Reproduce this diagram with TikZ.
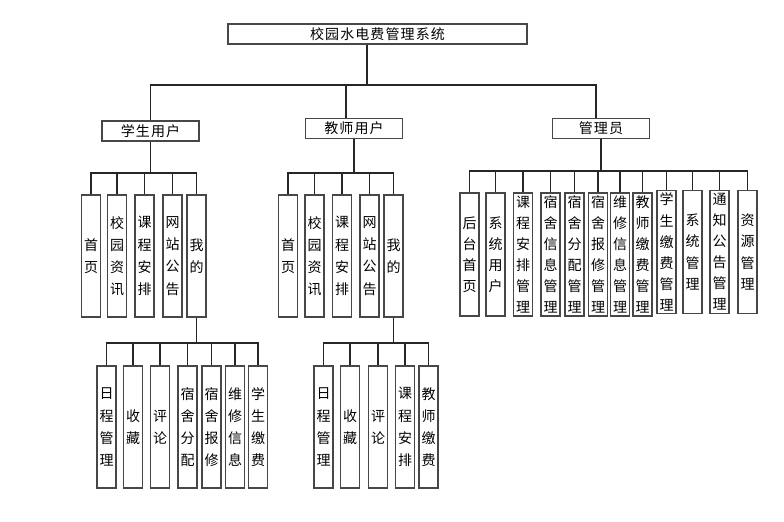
\documentclass[tikz,border=0pt]{standalone}
\usepackage{fontspec}
\newfontfamily\cjk{Noto Sans CJK SC}
\newfontfamily\cjkw{Noto Sans CJK SC}[LetterSpace=8]
\begin{document}
\begin{tikzpicture}[x=0.75pt,y=-0.75pt,
  box/.style={draw=black!72, line width=1.1pt, fill=white, inner sep=0pt, align=center},
  topbox/.style={box, minimum width=72.75pt, minimum height=15pt, font=\cjkw\fontsize{10.5}{12}\selectfont},
  leaf/.style={box, minimum width=14.5pt, minimum height=91.5pt, font=\cjk\fontsize{10.5}{16.6}\selectfont},
  aleaf/.style={box, minimum width=14.5pt, minimum height=92.5pt, font=\cjk\fontsize{10.5}{15.8}\selectfont},
  conn/.style={draw=black!85, line width=0.8pt}]
\useasboundingbox (0,0) rectangle (784,521);
% top level
\node[topbox, minimum width=224.25pt] (root) at (377.5,34) {校园水电费管理系统};
\node[topbox] (stu) at (150.5,131) {学生用户};
\node[topbox] (tch) at (354,128.5) {教师用户};
\node[topbox] (adm) at (601,128.5) {管理员};
\coordinate (rdx) at (367,85);
\coordinate (tdx) at (346,85);
\coordinate (adx) at (596,85);
\draw[conn] (root.south -| rdx) -- (rdx);
\draw[conn] (stu.north) |- (adx) -- (adm.north -| adx);
\draw[conn] (tdx) -- (tch.north -| tdx);
% student leaves
\node[leaf] (s1) at (91,256) {首\\页};
\node[leaf] (s2) at (117,256) {校\\园\\资\\讯};
\node[leaf] (s3) at (144.5,256) {课\\程\\安\\排};
\node[leaf] (s4) at (172.5,256) {网\\站\\公\\告};
\node[leaf] (s5) at (196.5,256) {我\\的};
\coordinate (sbus) at (0,173);
\draw[conn] (s1.north) |- (s5.north |- sbus) -- (s5.north);
\foreach \n in {s2,s3,s4} \draw[conn] (\n.north) -- (\n.north |- sbus);
\draw[conn] (stu.south) -- (stu.south |- sbus);
% student sub leaves
\node[leaf] (ss1) at (106.5,427) {日\\程\\管\\理};
\node[leaf] (ss2) at (133,427) {收\\藏};
\node[leaf] (ss3) at (160,427) {评\\论};
\node[leaf] (ss4) at (187.5,427) {宿\\舍\\分\\配};
\node[leaf] (ss5) at (211.5,427) {宿\\舍\\报\\修};
\node[leaf] (ss6) at (235,427) {维\\修\\信\\息};
\node[leaf] (ss7) at (258,427) {学\\生\\缴\\费};
\coordinate (ssbus) at (0,343);
\draw[conn] (ss1.north) |- (ss7.north |- ssbus) -- (ss7.north);
\foreach \n in {ss2,ss3,ss4,ss5,ss6} \draw[conn] (\n.north) -- (\n.north |- ssbus);
\draw[conn] (s5.south) -- (s5.south |- ssbus);
% teacher leaves
\node[leaf] (t1) at (288,256) {首\\页};
\node[leaf] (t2) at (314.5,256) {校\\园\\资\\讯};
\node[leaf] (t3) at (342,256) {课\\程\\安\\排};
\node[leaf] (t4) at (369.5,256) {网\\站\\公\\告};
\node[leaf] (t5) at (393.5,256) {我\\的};
\coordinate (tbus) at (0,173);
\draw[conn] (t1.north) |- (t5.north |- tbus) -- (t5.north);
\foreach \n in {t2,t3,t4} \draw[conn] (\n.north) -- (\n.north |- tbus);
\draw[conn] (tch.south) -- (tch.south |- tbus);
% teacher sub leaves
\node[leaf] (ts1) at (323.5,427) {日\\程\\管\\理};
\node[leaf] (ts2) at (350,427) {收\\藏};
\node[leaf] (ts3) at (378,427) {评\\论};
\node[leaf] (ts4) at (405,427) {课\\程\\安\\排};
\node[leaf] (ts5) at (428.5,427) {教\\师\\缴\\费};
\coordinate (tsbus) at (0,343);
\draw[conn] (ts1.north) |- (ts5.north |- tsbus) -- (ts5.north);
\foreach \n in {ts2,ts3,ts4} \draw[conn] (\n.north) -- (\n.north |- tsbus);
\draw[conn] (t5.south) -- (t5.south |- tsbus);
% admin leaves
\node[aleaf] (a1) at (469.5,254.5) {后\\台\\首\\页};
\node[aleaf] (a2) at (495.5,254.5) {系\\统\\用\\户};
\node[aleaf] (a3) at (523,254.5) {课\\程\\安\\排\\管\\理};
\node[aleaf] (a4) at (550.5,254.5) {宿\\舍\\信\\息\\管\\理};
\node[aleaf] (a5) at (574.5,254.5) {宿\\舍\\分\\配\\管\\理};
\node[aleaf] (a6) at (598,254.5) {宿\\舍\\报\\修\\管\\理};
\node[aleaf] (a7) at (620,254.5) {维\\修\\信\\息\\管\\理};
\node[aleaf] (a8) at (642.5,254.5) {教\\师\\缴\\费\\管\\理};
\node[aleaf] (a9) at (666.5,252) {学\\生\\缴\\费\\管\\理};
\node[aleaf] (a10) at (692.5,252) {系\\统\\管\\理};
\node[aleaf] (a11) at (719.5,252) {通\\知\\公\\告\\管\\理};
\node[aleaf] (a12) at (747.5,252) {资\\源\\管\\理};
\coordinate (abus) at (0,171);
\draw[conn] (a1.north) |- (a12.north |- abus) -- (a12.north);
\foreach \n in {a2,a3,a4,a5,a6,a7,a8,a9,a10,a11} \draw[conn] (\n.north) -- (\n.north |- abus);
\draw[conn] (adm.south) -- (adm.south |- abus);
\end{tikzpicture}
\end{document}
